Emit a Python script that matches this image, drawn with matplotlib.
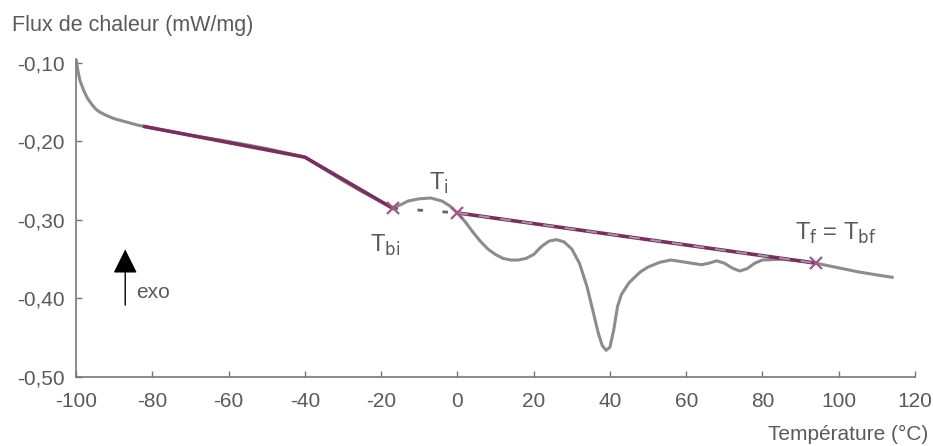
import matplotlib
matplotlib.use("Agg")
import matplotlib.pyplot as plt
from matplotlib.ticker import FixedLocator, FixedFormatter

# DSC curve
temp = [-100, -99.5, -99, -98, -97, -96, -95, -94, -92, -90, -87, -84, -80, -70, -60, -50,
        -40, -35, -30, -25, -20, -17, -15, -13, -10, -7, -4, -2, 0, 2, 4, 6, 8, 10, 12, 14,
        16, 18, 20, 22, 24, 26, 28, 30, 32, 34, 36, 37, 38, 39, 40, 41, 42, 43, 45, 48, 50,
        53, 56, 60, 64, 66, 68, 70, 72, 74, 76, 78, 80, 85, 90, 94, 100, 105, 110, 114]
flux = [-0.095, -0.110, -0.122, -0.135, -0.145, -0.152, -0.158, -0.162, -0.167, -0.171,
        -0.175, -0.179, -0.183, -0.192, -0.200, -0.209, -0.220, -0.235, -0.250, -0.264,
        -0.277, -0.284, -0.281, -0.276, -0.273, -0.272, -0.276, -0.282, -0.291, -0.302,
        -0.315, -0.327, -0.337, -0.344, -0.349, -0.351, -0.351, -0.349, -0.344, -0.334,
        -0.327, -0.325, -0.328, -0.337, -0.355, -0.385, -0.425, -0.445, -0.460, -0.466,
        -0.462, -0.440, -0.410, -0.395, -0.380, -0.366, -0.360, -0.354, -0.351, -0.354,
        -0.357, -0.355, -0.352, -0.355, -0.361, -0.365, -0.362, -0.355, -0.351, -0.350,
        -0.352, -0.355, -0.361, -0.366, -0.370, -0.373]

# baseline before transition and tangent after it
base_x = [-82, -40, -17]
base_y = [-0.181, -0.220, -0.285]
tang_x = [0, 94]
tang_y = [-0.291, -0.355]
# characteristic points T_bi, T_i, T_f
pts_x = [-17, 0, 94]
pts_y = [-0.285, -0.291, -0.355]

xticks = [-100, -80, -60, -40, -20, 0, 20, 40, 60, 80, 100, 120]
yticks = [-0.50, -0.40, -0.30, -0.20, -0.10]
ylabels = ["-0,50", "-0,40", "-0,30", "-0,20", "-0,10"]

plt.rcParams['font.family'] = ['Liberation Sans', 'DejaVu Sans']
plt.rcParams['axes.unicode_minus'] = False
txt = '#5a5a5a'
purple = '#7a2e5e'

fig = plt.figure(figsize=(9.33, 4.46), dpi=100)
ax = fig.add_axes([0.0815, 0.1547, 0.8992, 0.713])

ax.plot(temp, flux, color='#8c8c8c', lw=2.2, zorder=2)
ax.plot(base_x, base_y, color=purple, lw=2.6, zorder=3)
ax.plot(tang_x, tang_y, color=purple, lw=2.6, zorder=3)
ax.plot(tang_x, tang_y, color='#a898a8', lw=1.3, dashes=(6, 6), zorder=4)
ax.plot([pts_x[0], pts_x[1]], [pts_y[0], pts_y[1]], color='#666666', lw=2,
        dashes=(2, 7), dash_capstyle='butt', zorder=3)
ax.plot(pts_x, pts_y, ls='none', marker='x', ms=9, mew=1.6, color='#a0588a', zorder=5)

ax.text(-7.5, -0.253, r"T$_\mathrm{i}$", fontsize=17, color=txt, ha='left', va='center')
ax.text(-23, -0.333, r"T$_\mathrm{bi}$", fontsize=17, color=txt, ha='left', va='center')
ax.text(88.5, -0.317, r"T$_\mathrm{f}$ = T$_\mathrm{bf}$", fontsize=17, color=txt,
        ha='left', va='center')

ax.annotate("", xy=(-87.1, -0.334), xytext=(-87.1, -0.412),
            arrowprops=dict(arrowstyle='-|>,head_length=1.0,head_width=0.5',
                            mutation_scale=15, color='black', lw=1))
ax.text(-84.3, -0.392, "exo", fontsize=15, color=txt, ha='left', va='center')

ax.set_xlim(-100, 120)
ax.set_ylim(-0.50, -0.095)
ax.xaxis.set_major_locator(FixedLocator(xticks))
ax.yaxis.set_major_locator(FixedLocator(yticks))
ax.yaxis.set_major_formatter(FixedFormatter(ylabels))
for s in ['top', 'right']:
    ax.spines[s].set_visible(False)
for s in ['left', 'bottom']:
    ax.spines[s].set_color('#777777')
    ax.spines[s].set_linewidth(1.2)
ax.tick_params(axis='both', direction='in', length=4, width=1, color='#777777',
               labelsize=15, labelcolor=txt)
ax.tick_params(axis='x', pad=11)
ax.tick_params(axis='y', pad=8)

fig.text(12 / 933, 1 - 26 / 446, "Flux de chaleur (mW/mg)", fontsize=15.5, color=txt,
         ha='left', va='center')
fig.text(928 / 933, 1 - 434 / 446, "Température (°C)", fontsize=15, color=txt,
         ha='right', va='center')

fig.savefig("out.png", dpi=100)
